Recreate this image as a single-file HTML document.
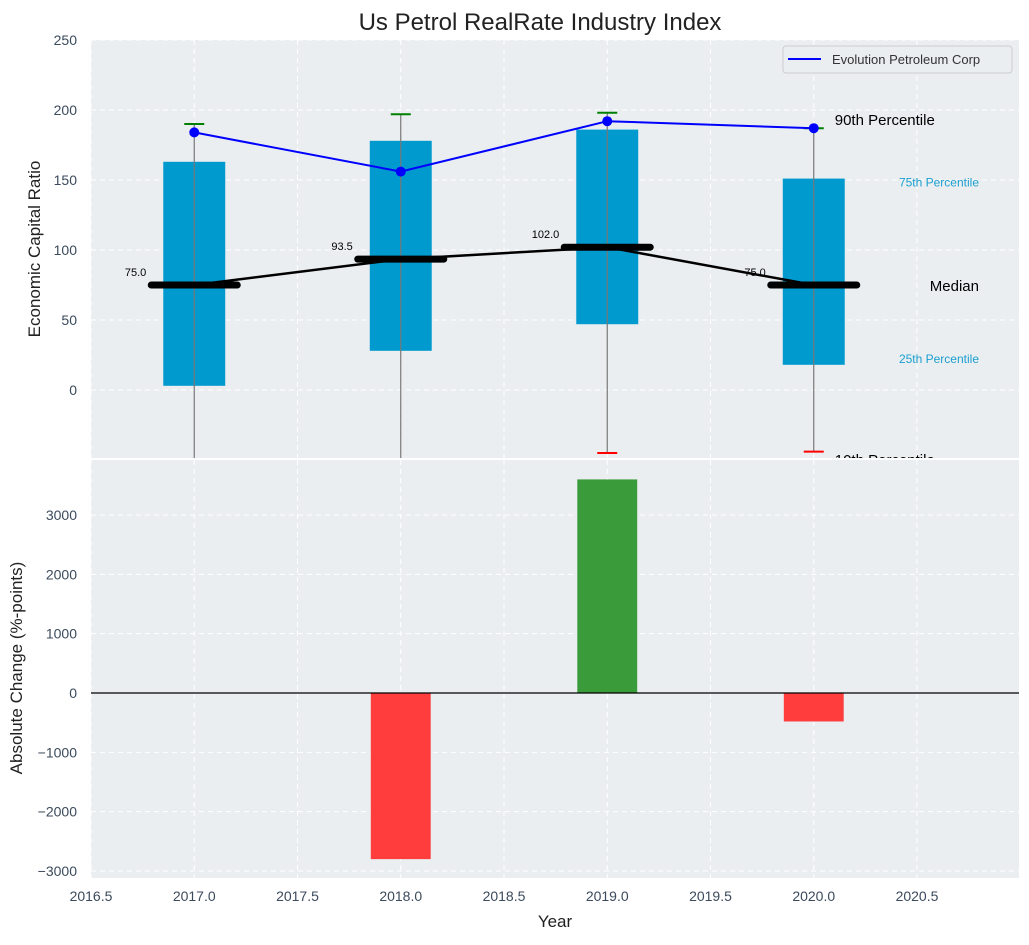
<!DOCTYPE html>
<html><head><meta charset="utf-8"><style>
body{margin:0;background:#fff;font-family:"Liberation Sans","DejaVu Sans",sans-serif}
svg text{font-family:"Liberation Sans","DejaVu Sans",sans-serif}
</style></head><body>
<svg id="c" width="1029" height="940" xmlns="http://www.w3.org/2000/svg"></svg>
<script>
const years=[2017,2018,2019,2020];
const p25=[3,28,47,18];
const p75=[163,178,186,151];
const p90=[190,197,198,187];
const p10=[-80,-80,-45,-44];
const medians=[75,93.5,102,75];
const company=[184,156,192,187];
const changeYears=[2018,2019,2020];
const changes=[-2800,3600,-480];
const xTicks=[2016.5,2017.0,2017.5,2018.0,2018.5,2019.0,2019.5,2020.0,2020.5];
const yTopTicks=[0,50,100,150,200,250];
const yBotTicks=[-3000,-2000,-1000,0,1000,2000,3000];

const NS="http://www.w3.org/2000/svg";
const svg=document.getElementById('c');
function mk(tag,attrs,parent){const e=document.createElementNS(NS,tag);for(const k in attrs)e.setAttribute(k,attrs[k]);(parent||svg).appendChild(e);return e;}
const L=91,R=1019;
const X=v=>L+(v-2016.5)*206.5;
const T0=40,T1=458;const YT=v=>390-v*1.4;
const B0=460,B1=878;const YB=v=>693-v*0.05933;

let e=mk('rect',{x:L,y:T0,width:R-L,height:T1-T0,fill:'#eaeef0'});


e=mk('rect',{x:L,y:B0,width:R-L,height:B1-B0,fill:'#eaeef0'});



xTicks.forEach(t=>{
  const x=X(t);
  mk('line',{x1:x,x2:x,y1:T0,y2:T1,stroke:'#fff','stroke-dasharray':'5,4','stroke-width':1});
  mk('line',{x1:x,x2:x,y1:B0,y2:B1,stroke:'#fff','stroke-dasharray':'5,4','stroke-width':1});
  const tx=mk('text',{x:x,y:901,'text-anchor':'middle','font-size':14,fill:'#3b4a5c'});tx.textContent=t.toFixed(1);
  
  
});
yTopTicks.forEach(t=>{
  const y=YT(t);
  mk('line',{x1:L,x2:R,y1:y,y2:y,stroke:'#fff','stroke-dasharray':'5,4'});
  const tx=mk('text',{x:77,y:y+5,'text-anchor':'end','font-size':14,fill:'#3b4a5c'});tx.textContent=t;
  
  
});
yBotTicks.forEach(t=>{
  const y=YB(t);
  mk('line',{x1:L,x2:R,y1:y,y2:y,stroke:'#fff','stroke-dasharray':'5,4'});
  const tx=mk('text',{x:77,y:y+5,'text-anchor':'end','font-size':14,fill:'#3b4a5c'});tx.textContent=(t<0?'\u2212'+(-t):t);
  
  
});

mk('clipPath',{id:'ct'});
mk('rect',{x:L,y:T0,width:R-L,height:T1-T0},svg.lastChild);
const gt=mk('g',{'clip-path':'url(#ct)'});
years.forEach((yr,i)=>{
  const x=X(yr),w=0.3*206.5;
  e=mk('rect',{x:x-w/2,y:YT(p75[i]),width:w,height:YT(p25[i])-YT(p75[i]),fill:'#009ace'},gt);
  
  
  e=mk('line',{x1:x,x2:x,y1:YT(p90[i]),y2:YT(p10[i]),stroke:'#777','stroke-width':1.2},gt);
  
  
  mk('line',{x1:x-10,x2:x+10,y1:YT(p90[i]),y2:YT(p90[i]),stroke:'green','stroke-width':2},gt);
  mk('line',{x1:x-10,x2:x+10,y1:YT(p10[i]),y2:YT(p10[i]),stroke:'red','stroke-width':2},gt);
});
e=mk('polyline',{points:years.map((y,i)=>X(y)+','+YT(medians[i])).join(' '),fill:'none',stroke:'#000','stroke-width':2.5},gt);


years.forEach((yr,i)=>{
  const x=X(yr),y=YT(medians[i]);
  e=mk('line',{x1:x-43,x2:x+43,y1:y,y2:y,stroke:'#000','stroke-width':7,'stroke-linecap':'round'},gt);
  
  
  const t=mk('text',{x:x-48,y:y-9,'text-anchor':'end','font-size':11,fill:'#000'},gt);t.textContent=medians[i].toFixed(1);
  
  
});
e=mk('polyline',{points:years.map((y,i)=>X(y)+','+YT(company[i])).join(' '),fill:'none',stroke:'#0000ff','stroke-width':2},gt);


years.forEach((yr,i)=>{
  e=mk('circle',{cx:X(yr),cy:YT(company[i]),r:5,fill:'#0000ff'},gt);
  
  
});
const last=3,xl=X(2020);
[[xl+21,YT(p90[last])-3,'90th Percentile',15,'#000','start'],[979,YT(p75[last])+8,'75th Percentile',12,'#1a9fd0','end'],[979,YT(medians[last])+6,'Median',15,'#000','end'],[979,YT(p25[last])-2,'25th Percentile',12,'#1a9fd0','end'],[xl+21,465,'10th Percentile',15,'#000','start']].forEach(a=>{
  const t=mk('text',{x:a[0],y:a[1],'font-size':a[3],fill:a[4],'text-anchor':a[5]},gt);t.textContent=a[2];
  
  
});
const lg=mk('g',{});


mk('rect',{x:783,y:46,width:229,height:27,rx:3,fill:'#eaeef0',stroke:'#ccc'},lg);
mk('line',{x1:788,x2:821,y1:59,y2:59,stroke:'#0000ff','stroke-width':2},lg);
let t=mk('text',{x:832,y:64,'font-size':13,fill:'#333'},lg);t.textContent='Evolution Petroleum Corp';

changeYears.forEach((yr,i)=>{
  const w=0.29*206.5,v=changes[i];
  e=mk('rect',{x:X(yr)-w/2,y:Math.min(YB(0),YB(v)),width:w,height:Math.abs(YB(v)-YB(0)),fill:v<0?'#ff3d3d':'#3a9b3a'});
  
  
});
e=mk('line',{x1:L,x2:R,y1:YB(0),y2:YB(0),stroke:'#000','stroke-width':1.2});



t=mk('text',{x:540,y:30,'text-anchor':'middle','font-size':24,fill:'#222'});t.textContent='Us Petrol RealRate Industry Index';


t=mk('text',{x:555,y:927,'text-anchor':'middle','font-size':17,fill:'#222'});t.textContent='Year';


t=mk('text',{x:0,y:0,'text-anchor':'middle','font-size':17,fill:'#222',transform:'translate(40,249) rotate(-90)'});t.textContent='Economic Capital Ratio';


t=mk('text',{x:0,y:0,'text-anchor':'middle','font-size':17,fill:'#222',transform:'translate(22,668) rotate(-90)'});t.textContent='Absolute Change (%-points)';


</script>
</body></html>
